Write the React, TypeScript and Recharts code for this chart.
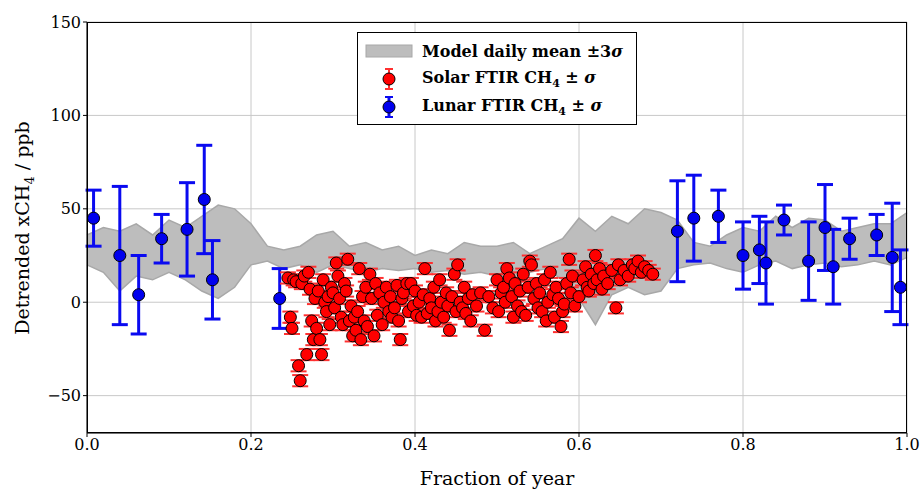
import React from "react";
import {
    ComposedChart,
    Area,
    Scatter,
    ErrorBar,
    XAxis,
    YAxis,
    CartesianGrid,
} from "recharts";

const BAND_X = [0, 0.02, 0.04, 0.06, 0.08, 0.1, 0.12, 0.14, 0.16, 0.18, 0.2, 0.22, 0.24, 0.26, 0.28, 0.3, 0.32, 0.34, 0.36, 0.38, 0.4, 0.42, 0.44, 0.46, 0.48, 0.5, 0.52, 0.54, 0.56, 0.58, 0.6, 0.62, 0.64, 0.66, 0.68, 0.7, 0.72, 0.74, 0.76, 0.78, 0.8, 0.82, 0.84, 0.86, 0.88, 0.9, 0.92, 0.94, 0.96, 0.98, 1.0];
const BAND_LOW = [20, 16, 6, 14, 12, 16, 12, 6, 2, 8, 20, 22, 18, 20, 16, 20, 18, 16, 18, 17, 18, 16, 17, 15, 16, 14, 8, 16, 18, 12, 2, -12, 4, 8, 4, 6, 18, 20, 21, 18, 16, 20, 22, 18, 20, 21, 19, 20, 22, 20, 24];
const BAND_HIGH = [36, 40, 38, 42, 36, 44, 40, 46, 52, 50, 42, 30, 28, 30, 36, 38, 30, 32, 28, 30, 25, 28, 26, 32, 30, 30, 32, 26, 30, 34, 45, 38, 46, 42, 50, 48, 44, 32, 30, 36, 40, 38, 46, 40, 45, 44, 38, 40, 42, 42, 48];

const SOLAR: [number, number][] = [
    [0.245, 13], [0.248, -8], [0.25, -14], [0.252, 12], [0.255, 11], [0.258, -34], [0.26, -42], [0.262, 10],
    [0.265, 14], [0.268, -28], [0.27, 16], [0.272, 7], [0.274, -10], [0.276, -20], [0.278, 2], [0.28, -14],
    [0.282, 6], [0.284, -20], [0.286, -28], [0.288, 12], [0.29, 0], [0.292, -5], [0.294, 3], [0.296, -12],
    [0.298, 8], [0.3, 5], [0.302, -3], [0.304, 21], [0.306, 14], [0.308, 2], [0.31, -8], [0.312, -12],
    [0.314, 10], [0.316, 6], [0.318, 23], [0.32, -10], [0.322, -2], [0.324, -18], [0.326, -8], [0.328, -15],
    [0.33, -5], [0.332, 18], [0.334, -20], [0.336, 3], [0.338, -10], [0.34, 8], [0.342, -13], [0.345, 15],
    [0.347, 2], [0.35, -18], [0.352, 10], [0.354, -7], [0.357, 5], [0.36, -12], [0.362, 0], [0.365, 8],
    [0.368, -5], [0.37, 3], [0.372, -8], [0.375, -3], [0.378, 9], [0.38, -10], [0.382, -20], [0.384, 2],
    [0.386, 5], [0.39, 10], [0.392, -5], [0.395, 10], [0.398, -2], [0.4, 6], [0.402, -7], [0.405, 0],
    [0.408, -8], [0.41, 4], [0.412, 18], [0.415, -6], [0.418, 2], [0.42, -3], [0.423, 8], [0.425, -10],
    [0.428, -5], [0.43, 12], [0.432, 0], [0.435, -8], [0.438, 5], [0.44, -2], [0.442, -15], [0.445, 3],
    [0.448, 15], [0.45, -5], [0.452, 20], [0.455, 0], [0.458, -3], [0.46, 8], [0.462, -6], [0.465, 2],
    [0.468, -10], [0.47, 4], [0.475, -2], [0.48, 5], [0.485, -15], [0.49, 3], [0.495, -3], [0.5, 12],
    [0.502, -5], [0.505, 5], [0.508, 8], [0.51, 0], [0.512, 18], [0.515, 13], [0.518, 3], [0.52, -8],
    [0.522, 10], [0.525, -2], [0.528, 6], [0.53, -5], [0.532, 15], [0.535, -7], [0.538, 8], [0.54, 22],
    [0.542, 20], [0.545, 2], [0.548, 10], [0.55, -3], [0.552, 5], [0.555, -5], [0.558, 12], [0.56, -10],
    [0.562, 0], [0.565, 16], [0.568, 4], [0.57, -8], [0.572, 8], [0.575, 2], [0.578, -13], [0.58, -5],
    [0.582, -1], [0.585, 10], [0.588, 23], [0.59, 5], [0.592, 14], [0.595, -2], [0.6, 3], [0.605, 12],
    [0.608, 19], [0.61, 8], [0.612, 6], [0.615, 15], [0.618, 10], [0.62, 25], [0.622, 12], [0.625, 18],
    [0.628, 7], [0.63, 14], [0.635, 10], [0.64, 17], [0.645, -3], [0.648, 20], [0.65, 12], [0.655, 17],
    [0.66, 14], [0.665, 20], [0.668, 18], [0.672, 22], [0.676, 16], [0.68, 19], [0.685, 17], [0.69, 15],
];
const SOLAR_ERR = 3;

const LUNAR: [number, number, number][] = [
    [0.008, 45, 15], [0.04, 25, 37], [0.063, 4, 21], [0.091, 34, 13], [0.122, 39, 25], [0.143, 55, 29],
    [0.153, 12, 21], [0.235, 2, 16], [0.72, 38, 27], [0.74, 45, 23], [0.77, 46, 14], [0.8, 25, 18],
    [0.82, 28, 18], [0.828, 21, 22], [0.85, 44, 8], [0.88, 22, 21], [0.9, 40, 23], [0.91, 19, 20],
    [0.93, 34, 11], [0.963, 36, 11], [0.982, 24, 29], [0.992, 8, 20],
];

const X_TICKS = [0, 0.2, 0.4, 0.6, 0.8, 1.0];
const Y_TICKS = [-50, 0, 50, 100, 150];

const FONT = "'DejaVu Serif', serif";

const bandData = BAND_X.map((x, i) => ({ x, range: [BAND_LOW[i], BAND_HIGH[i]] }));
const solarData = SOLAR.map(([x, y]) => ({ x, y, err: SOLAR_ERR }));
const lunarData = LUNAR.map(([x, y, err]) => ({ x, y, err }));

const dot = (fill: string) => (props: any) => (
    <circle cx={props.cx} cy={props.cy} r={6} fill={fill} stroke="#000" strokeWidth={1} />
);

export default function App() {
    const tick = { fill: "#000", fontSize: 16, fontFamily: FONT };
    return (
        <div style={{ position: "absolute", left: 0, top: 0, width: 921, height: 489, background: "#fff" }}>
            <ComposedChart width={921} height={489} data={bandData} margin={{ top: 22, right: 14, left: 0, bottom: 0 }}>
                <CartesianGrid stroke="#c8c8c8" />
                <XAxis
                    dataKey="x"
                    type="number"
                    domain={[0, 1]}
                    ticks={X_TICKS}
                    tickFormatter={(v) => v.toFixed(1)}
                    tick={tick}
                    height={56}
                    stroke="#000"
                    tickSize={4}
                    label={{ value: "Fraction of year", position: "insideBottom", offset: 4, fill: "#000", fontSize: 19, fontFamily: FONT }}
                />
                <YAxis
                    type="number"
                    domain={[-70, 150]}
                    ticks={Y_TICKS}
                    tickFormatter={(v) => (v < 0 ? `\u2212${-v}` : String(v))}
                    tick={tick}
                    width={87}
                    stroke="#000"
                    tickSize={4}
                    allowDataOverflow
                />
                <text x={22} y={228} transform="rotate(-90 22 228)" textAnchor="middle" dominantBaseline="central" fontSize={19} fontFamily={FONT}>
                    Detrended xCH<tspan baselineShift="sub" fontSize={13}>4</tspan> / ppb
                </text>
                <Area dataKey="range" type="linear" stroke="#a8a8a8" strokeWidth={1.5} fill="#bdbdbd" fillOpacity={1} isAnimationActive={false} />
                <Scatter data={lunarData} dataKey="y" shape={dot("#0000ee")} isAnimationActive={false}>
                    <ErrorBar dataKey="err" direction="y" stroke="#0a0af0" strokeWidth={3} width={8} />
                </Scatter>
                <Scatter data={solarData} dataKey="y" shape={dot("#ff0000")} isAnimationActive={false}>
                    <ErrorBar dataKey="err" direction="y" stroke="#ff3030" strokeWidth={2} width={8} />
                </Scatter>
            </ComposedChart>
            <div style={{ position: "absolute", left: 87, top: 22, width: 820, height: 411, border: "1px solid #000", boxSizing: "border-box", pointerEvents: "none" }} />
            <div
                style={{
                    position: "absolute", left: 357, top: 32, width: 280, height: 93,
                    border: "1.5px solid #000", background: "#fff", fontFamily: FONT, fontSize: 16,
                    fontWeight: 600, boxSizing: "border-box", padding: "4px 6px", whiteSpace: "nowrap",
                }}
            >
                <div style={{ display: "flex", alignItems: "center", height: 28 }}>
                    <svg width={50} height={20}><rect x={2} y={4} width={46} height={12} fill="#bdbdbd" stroke="#a8a8a8" /></svg>
                    <span style={{ marginLeft: 8 }}>Model daily mean ±3<i>σ</i></span>
                </div>
                <div style={{ display: "flex", alignItems: "center", height: 28 }}>
                    <svg width={50} height={24}>
                        <line x1={25} y1={2} x2={25} y2={22} stroke="#ff3030" strokeWidth={2} />
                        <line x1={21} y1={2} x2={29} y2={2} stroke="#ff3030" strokeWidth={2} />
                        <line x1={21} y1={22} x2={29} y2={22} stroke="#ff3030" strokeWidth={2} />
                        <circle cx={25} cy={12} r={6} fill="#ff0000" stroke="#000" />
                    </svg>
                    <span style={{ marginLeft: 8 }}>Solar FTIR CH<sub style={{ fontSize: 11 }}>4</sub> ± <i>σ</i></span>
                </div>
                <div style={{ display: "flex", alignItems: "center", height: 28 }}>
                    <svg width={50} height={24}>
                        <line x1={25} y1={2} x2={25} y2={22} stroke="#0a0af0" strokeWidth={3} />
                        <line x1={21} y1={2} x2={29} y2={2} stroke="#0a0af0" strokeWidth={2} />
                        <line x1={21} y1={22} x2={29} y2={22} stroke="#0a0af0" strokeWidth={2} />
                        <circle cx={25} cy={12} r={6} fill="#0000ee" stroke="#000" />
                    </svg>
                    <span style={{ marginLeft: 8 }}>Lunar FTIR CH<sub style={{ fontSize: 11 }}>4</sub> ± <i>σ</i></span>
                </div>
            </div>
        </div>
    );
}
